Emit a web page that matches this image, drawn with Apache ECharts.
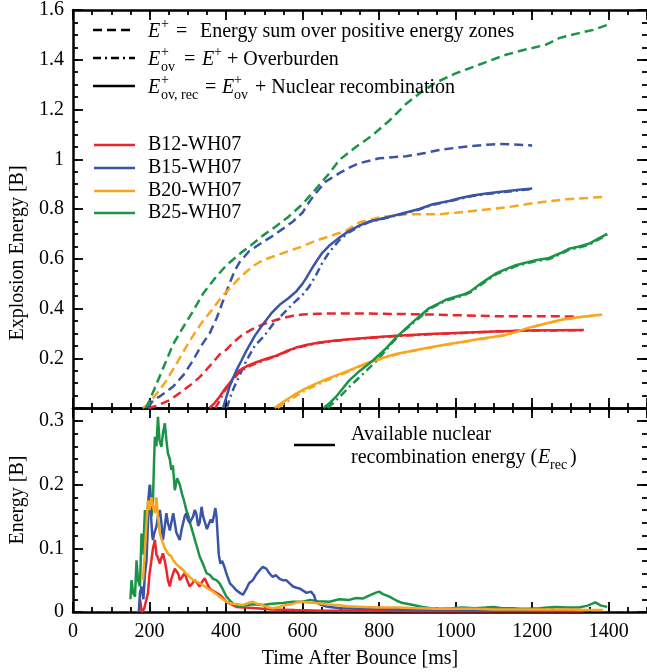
<!DOCTYPE html>
<html><head><meta charset="utf-8">
<script src="https://cdn.jsdelivr.net/npm/echarts@6/dist/echarts.min.js"></script>
<style>html,body{margin:0;padding:0;background:#fff}#c{width:647px;height:672px}</style>
</head><body><div id="c"></div><script>
// ---------- data ----------
const xTicks = [0,200,400,600,800,1000,1200,1400];
const topYTicks = [0.2,0.4,0.6,0.8,1,1.2,1.4,1.6];
const botYTicks = [0,0.1,0.2,0.3];
const models = ['B12-WH07','B15-WH07','B20-WH07','B25-WH07'];

// E+ (dashed)
const b12_Eplus = [[195,0],[218,0.008],[250,0.03],[279,0.06],[305,0.09],[331,0.124],[357,0.168],[383,0.215],[401,0.235],[420,0.265],[444,0.296],[470,0.318],[496,0.336],[522,0.35],[548,0.362],[575,0.371],[600,0.376],[640,0.379],[670,0.38],[750,0.38],[850,0.378],[931,0.376],[1000,0.373],[1105,0.369],[1200,0.369],[1322,0.368]];
const b15_Eplus = [[195,0],[209,0.03],[230,0.05],[261,0.085],[290,0.135],[313,0.19],[335,0.25],[357,0.30],[375,0.36],[392,0.43],[409,0.50],[422,0.55],[435,0.585],[460,0.63],[496,0.667],[520,0.69],[548,0.72],[575,0.75],[600,0.786],[618,0.83],[635,0.865],[660,0.91],[696,0.944],[720,0.965],[748,0.984],[800,1.004],[870,1.012],[920,1.025],[957,1.037],[1000,1.046],[1044,1.053],[1080,1.058],[1113,1.061],[1150,1.06],[1200,1.055]];
const b20_Eplus = [[182,0],[192,0.01],[215,0.05],[244,0.11],[275,0.19],[305,0.27],[335,0.34],[366,0.40],[390,0.45],[409,0.48],[430,0.515],[453,0.548],[475,0.575],[496,0.594],[525,0.61],[557,0.627],[600,0.65],[635,0.673],[670,0.69],[714,0.713],[748,0.746],[800,0.766],[870,0.779],[957,0.779],[1000,0.785],[1044,0.792],[1131,0.806],[1200,0.823],[1287,0.839],[1383,0.848]];
const b25_Eplus = [[190,0],[200,0.03],[230,0.14],[262,0.257],[290,0.33],[314,0.39],[340,0.46],[370,0.52],[401,0.574],[440,0.625],[470,0.66],[496,0.693],[530,0.73],[560,0.765],[600,0.82],[640,0.89],[670,0.944],[696,0.997],[740,1.05],[783,1.097],[830,1.16],[870,1.222],[910,1.27],[948,1.308],[1000,1.345],[1061,1.38],[1131,1.42],[1180,1.44],[1235,1.46],[1270,1.487],[1322,1.507],[1360,1.52],[1396,1.54]];

// E+_ov (dash-dot)
const b12_Eov = [[372,0],[383,0.03],[396,0.068],[409,0.095],[422,0.12],[435,0.145],[457,0.165],[479,0.18],[505,0.195],[531,0.208],[557,0.226],[583,0.241],[612,0.252],[644,0.262],[680,0.269],[714,0.274],[780,0.282],[844,0.289],[930,0.296],[1018,0.302],[1100,0.307],[1192,0.311],[1260,0.312],[1335,0.313]];
const b15_Eov = [[402,0],[410,0.04],[420,0.08],[435,0.13],[453,0.19],[475,0.25],[500,0.29],[522,0.336],[550,0.38],[575,0.42],[600,0.455],[618,0.49],[635,0.534],[652,0.585],[670,0.627],[696,0.675],[720,0.705],[748,0.73],[775,0.748],[800,0.757],[835,0.77],[870,0.784],[905,0.798],[940,0.817],[983,0.83],[1010,0.841],[1044,0.852],[1080,0.86],[1113,0.866],[1160,0.874],[1200,0.88]];
const b20_Eov = [[535,0],[548,0.015],[570,0.035],[590,0.055],[615,0.077],[640,0.095],[665,0.112],[690,0.128],[722,0.148],[748,0.166],[774,0.182],[810,0.2],[844,0.215],[880,0.227],[931,0.242],[983,0.256],[1020,0.265],[1061,0.276],[1100,0.285],[1131,0.293],[1160,0.306],[1192,0.322],[1230,0.337],[1279,0.355],[1330,0.366],[1383,0.375]];
const b25_Eov = [[665,0],[680,0.02],[700,0.05],[722,0.085],[760,0.14],[800,0.2],[830,0.255],[860,0.305],[896,0.35],[931,0.398],[955,0.416],[974,0.431],[1018,0.451],[1040,0.466],[1061,0.491],[1085,0.516],[1105,0.537],[1130,0.553],[1157,0.57],[1185,0.581],[1209,0.59],[1244,0.599],[1270,0.616],[1296,0.636],[1320,0.644],[1348,0.656],[1375,0.679],[1396,0.697]];

// E+_ov,rec (solid)
const b12_Erec = [[357,0],[370,0.02],[383,0.045],[396,0.075],[409,0.099],[422,0.128],[435,0.151],[457,0.17],[479,0.184],[505,0.198],[531,0.21],[557,0.228],[583,0.243],[612,0.254],[644,0.263],[680,0.27],[714,0.275],[780,0.283],[844,0.29],[930,0.297],[1018,0.303],[1100,0.308],[1192,0.312],[1260,0.313],[1335,0.314]];
const b15_Erec = [[392,0],[400,0.04],[409,0.085],[418,0.12],[427,0.151],[440,0.19],[453,0.23],[475,0.29],[496,0.336],[518,0.38],[540,0.415],[562,0.44],[583,0.468],[600,0.5],[609,0.521],[622,0.555],[635,0.587],[652,0.625],[670,0.653],[696,0.685],[720,0.71],[748,0.733],[775,0.75],[800,0.759],[835,0.772],[870,0.786],[905,0.80],[940,0.819],[983,0.832],[1010,0.843],[1044,0.854],[1080,0.862],[1113,0.868],[1160,0.876],[1200,0.882]];
const b20_Erec = [[527,0],[540,0.015],[560,0.035],[583,0.058],[610,0.08],[635,0.098],[660,0.115],[688,0.131],[722,0.151],[748,0.168],[774,0.184],[810,0.202],[844,0.217],[880,0.228],[931,0.243],[983,0.257],[1020,0.266],[1061,0.277],[1100,0.286],[1131,0.294],[1160,0.307],[1192,0.323],[1230,0.338],[1279,0.356],[1330,0.367],[1383,0.376]];
const b25_Erec = [[655,0],[670,0.019],[690,0.05],[722,0.111],[750,0.15],[783,0.19],[815,0.235],[844,0.283],[870,0.32],[896,0.356],[931,0.402],[955,0.42],[974,0.435],[1018,0.455],[1040,0.47],[1061,0.495],[1085,0.52],[1105,0.541],[1130,0.557],[1157,0.574],[1185,0.585],[1209,0.594],[1244,0.603],[1270,0.62],[1296,0.64],[1320,0.648],[1348,0.66],[1375,0.683],[1396,0.70]];

// Available nuclear recombination energy (bottom panel)
const b12_avail = [[175,0.02],[180,0.0],[186,0.005],[192,0.02],[196,0.03],[200,0.06],[205,0.081],[209,0.1],[214,0.113],[218,0.09],[222,0.085],[227,0.076],[231,0.085],[235,0.092],[240,0.08],[244,0.066],[248,0.05],[253,0.04],[257,0.052],[262,0.061],[266,0.068],[270,0.071],[275,0.06],[279,0.05],[285,0.055],[292,0.061],[298,0.05],[305,0.04],[312,0.045],[318,0.05],[325,0.045],[331,0.04],[338,0.048],[344,0.053],[350,0.045],[357,0.037],[366,0.033],[375,0.03],[383,0.027],[392,0.022],[401,0.016],[414,0.012],[427,0.008],[450,0.007],[479,0.006],[520,0.004],[580,0.003],[650,0.002],[750,0.002],[900,0.001],[1100,0.001],[1335,0.001]];
const b15_avail = [[172,0.0],[175,0.03],[179,0.04],[184,0.02],[188,0.06],[192,0.08],[196,0.14],[199,0.19],[201,0.199],[204,0.15],[207,0.12],[209,0.113],[213,0.125],[218,0.134],[222,0.15],[227,0.16],[231,0.14],[235,0.113],[240,0.135],[244,0.155],[248,0.14],[253,0.128],[257,0.14],[262,0.155],[266,0.14],[270,0.125],[275,0.118],[279,0.113],[284,0.13],[288,0.14],[292,0.15],[296,0.155],[300,0.145],[305,0.14],[309,0.139],[314,0.15],[318,0.16],[322,0.155],[327,0.135],[331,0.14],[336,0.165],[340,0.15],[345,0.14],[350,0.13],[355,0.138],[360,0.145],[364,0.14],[368,0.15],[372,0.163],[375,0.15],[378,0.12],[381,0.09],[385,0.076],[390,0.08],[396,0.07],[401,0.06],[406,0.052],[410,0.045],[418,0.04],[427,0.034],[436,0.03],[444,0.027],[452,0.035],[460,0.045],[470,0.05],[478,0.058],[487,0.065],[496,0.071],[505,0.068],[514,0.06],[522,0.055],[530,0.058],[540,0.052],[548,0.05],[557,0.05],[566,0.045],[575,0.04],[584,0.038],[592,0.037],[600,0.034],[610,0.03],[622,0.032],[630,0.026],[635,0.016],[645,0.012],[660,0.009],[670,0.008],[700,0.006],[750,0.005],[800,0.005],[850,0.004],[900,0.004],[950,0.004],[1000,0.004],[1050,0.003],[1100,0.003],[1150,0.003],[1200,0.003]];
const b20_avail = [[183,0.05],[186,0.08],[188,0.097],[192,0.14],[196,0.175],[200,0.16],[205,0.18],[209,0.165],[214,0.155],[218,0.18],[222,0.15],[227,0.123],[231,0.115],[235,0.108],[240,0.1],[244,0.097],[250,0.09],[256,0.088],[262,0.081],[270,0.075],[279,0.07],[288,0.066],[296,0.06],[305,0.055],[314,0.05],[322,0.048],[331,0.045],[340,0.042],[349,0.038],[357,0.035],[366,0.032],[375,0.028],[383,0.024],[392,0.02],[401,0.016],[415,0.013],[430,0.012],[444,0.011],[458,0.014],[470,0.016],[480,0.013],[490,0.012],[505,0.008],[522,0.006],[540,0.008],[556,0.011],[570,0.012],[585,0.015],[600,0.016],[615,0.015],[635,0.014],[660,0.012],[688,0.011],[720,0.009],[760,0.008],[800,0.007],[850,0.007],[900,0.006],[950,0.005],[1000,0.005],[1050,0.005],[1100,0.004],[1150,0.004],[1200,0.004],[1250,0.004],[1300,0.004],[1350,0.003],[1385,0.003]];
const b25_avail = [[150,0.02],[153,0.05],[157,0.03],[162,0.024],[166,0.081],[170,0.05],[175,0.04],[179,0.123],[183,0.09],[188,0.16],[192,0.134],[196,0.17],[201,0.20],[205,0.15],[209,0.176],[212,0.24],[214,0.275],[218,0.26],[222,0.306],[226,0.27],[231,0.259],[235,0.28],[240,0.296],[244,0.27],[248,0.249],[253,0.24],[257,0.223],[261,0.23],[266,0.191],[272,0.21],[279,0.20],[285,0.185],[290,0.175],[296,0.16],[302,0.15],[308,0.135],[314,0.123],[320,0.11],[325,0.1],[331,0.087],[340,0.075],[349,0.061],[358,0.058],[366,0.052],[375,0.05],[383,0.045],[392,0.035],[401,0.024],[410,0.018],[420,0.012],[435,0.008],[450,0.01],[470,0.012],[496,0.011],[520,0.013],[548,0.014],[575,0.016],[600,0.016],[620,0.019],[640,0.017],[670,0.016],[696,0.02],[722,0.019],[740,0.022],[757,0.021],[775,0.026],[790,0.03],[800,0.032],[810,0.028],[827,0.024],[845,0.018],[861,0.014],[880,0.012],[913,0.008],[935,0.006],[957,0.005],[990,0.006],[1018,0.007],[1050,0.006],[1079,0.007],[1100,0.008],[1120,0.006],[1148,0.006],[1170,0.005],[1192,0.005],[1220,0.006],[1240,0.007],[1261,0.008],[1290,0.007],[1322,0.007],[1345,0.01],[1365,0.015],[1380,0.01],[1396,0.008]];

// ---------- styling ----------
const COLORS = ['#e8262b','#3a55a5','#f8a51f','#1b9447'];
const FONT = '"Liberation Serif","Times New Roman",serif';
const DASH = [9,5];
const DASHDOT = [8,4,2,4];
const LW = 2.5;

const chart = echarts.init(document.getElementById('c'), null, {renderer:'canvas'});

function xAx(grid, pos, interval, len, withLine, labels) {
  return {
    type:'value', gridIndex:grid, position:pos, min:0, max:1500, interval:interval,
    axisLine:{show:withLine, onZero:false, lineStyle:{color:'#000', width:2.5}},
    axisTick:{show:true, inside:true, length:len, lineStyle:{color:'#000', width:1.8}},
    axisLabel:{show:!!labels, showMaxLabel:false, fontFamily:FONT, fontSize:20, color:'#000', margin:10,
      formatter:(v)=> xTicks.indexOf(v) >= 0 ? String(v) : ''},
    splitLine:{show:false},
    name: labels ? 'Time After Bounce [ms]' : '',
    nameLocation:'middle', nameGap:37,
    nameTextStyle:{fontFamily:FONT, fontSize:20, color:'#000'}
  };
}
function yAx(grid, pos, max, interval, len, withLine, ticksList) {
  return {
    type:'value', gridIndex:grid, position:pos, min:0, max:max, interval:interval,
    axisLine:{show:withLine, onZero:false, lineStyle:{color:'#000', width:2.5}},
    axisTick:{show:true, inside:true, length:len, lineStyle:{color:'#000', width:1.8}},
    axisLabel:{show:!!ticksList, showMaxLabel: ticksList ? (ticksList.indexOf(max)>=0) : false,
      fontFamily:FONT, fontSize:20, color:'#000', margin:9,
      formatter:(v)=>{ if(!ticksList) return ''; const r = Math.round(v*1000)/1000; return ticksList.indexOf(r)>=0 ? String(r) : ''; }},
    splitLine:{show:false}
  };
}

const xAxis = [
  xAx(0,'bottom',200,10,true,false), xAx(0,'bottom',50,5,false,false),
  xAx(0,'top',200,10,true,false),    xAx(0,'top',50,5,false,false),
  xAx(1,'bottom',200,10,true,true),  xAx(1,'bottom',50,5,false,false),
  xAx(1,'top',200,10,true,false),    xAx(1,'top',50,5,false,false)
];
const yAxis = [
  yAx(0,'left',1.6,0.2,10,true,topYTicks), yAx(0,'left',1.6,0.05,5,false,null),
  yAx(0,'right',1.6,0.2,10,false,null),    yAx(0,'right',1.6,0.05,5,false,null),
  yAx(1,'left',0.32,0.1,10,true,botYTicks),yAx(1,'left',0.32,0.02,5,false,null),
  yAx(1,'right',0.32,0.1,10,false,null),   yAx(1,'right',0.32,0.02,5,false,null)
];

function line(data, color, type, xi, yi, z) {
  return {type:'line', data:data, xAxisIndex:xi, yAxisIndex:yi, showSymbol:false, symbol:'none',
    lineStyle:{color:color, width:LW, type:type}, z:z||2, silent:true, clip:true, animation:false};
}

const series = [
  line(b12_Eplus, COLORS[0], DASH, 0, 0), line(b15_Eplus, COLORS[1], DASH, 0, 0),
  line(b20_Eplus, COLORS[2], DASH, 0, 0), line(b25_Eplus, COLORS[3], DASH, 0, 0),
  line(b12_Eov, COLORS[0], DASHDOT, 0, 0), line(b15_Eov, COLORS[1], DASHDOT, 0, 0),
  line(b20_Eov, COLORS[2], DASHDOT, 0, 0), line(b25_Eov, COLORS[3], DASHDOT, 0, 0),
  line(b12_Erec, COLORS[0], 'solid', 0, 0), line(b15_Erec, COLORS[1], 'solid', 0, 0),
  line(b20_Erec, COLORS[2], 'solid', 0, 0), line(b25_Erec, COLORS[3], 'solid', 0, 0),
  line(b12_avail, COLORS[0], 'solid', 4, 4), line(b25_avail, COLORS[3], 'solid', 4, 4),
  line(b15_avail, COLORS[1], 'solid', 4, 4), line(b20_avail, COLORS[2], 'solid', 4, 4)
];

// ---------- legend graphics ----------
function T(x, y, s, size, italic, align) {
  return {type:'text', x:x, y:y, silent:true, z:100,
    style:{text:s, font:(italic?'italic ':'')+size+'px '+FONT, fill:'#000', align:align||'left', verticalAlign:'middle'}};
}
function L(x1, y, x2, color, dash) {
  return {type:'line', silent:true, z:100, shape:{x1:x1, y1:y, x2:x2, y2:y},
    style:{stroke:color, lineWidth:LW, lineDash:dash||null}};
}
const g = [];
// row 1
g.push(L(93,30,135,'#000',DASH));
g.push(T(148,32,'E',20,true)); g.push(T(161,24,'+',14,false));
g.push(T(176,32,'=',20,false)); g.push(T(200,32,'Energy sum over positive energy zones',20,false));
// row 2
g.push(L(93,58,135,'#000',DASHDOT));
g.push(T(148,60,'E',20,true)); g.push(T(161,52,'+',14,false)); g.push(T(161,67,'ov',14,false));
g.push(T(184,60,'=',20,false)); g.push(T(202,60,'E',20,true)); g.push(T(214,52,'+',14,false));
g.push(T(227,60,'+ Overburden',20,false));
// row 3
g.push(L(93,86,135,'#000',null));
g.push(T(148,88,'E',20,true)); g.push(T(161,80,'+',14,false)); g.push(T(161,95,'ov, rec',14,false));
g.push(T(205,88,'=',20,false)); g.push(T(222,88,'E',20,true)); g.push(T(234,80,'+',14,false)); g.push(T(234,95,'ov',14,false));
g.push(T(255,88,'+ Nuclear recombination',20,false));
// model legend
const ly = [145,168,191,213];
models.forEach((m,i)=>{ g.push(L(94,ly[i],135,COLORS[i],null)); g.push(T(148,ly[i],m,20,false)); });
// bottom legend
g.push(L(294,445,335,'#000',null));
g.push(T(351,435,'Available nuclear',20,false));
g.push(T(351,458,'recombination energy (',20,false));
g.push(T(538,458,'E',20,true)); g.push(T(550,465,'rec',14,false)); g.push(T(570,458,')',20,false));
// y axis titles
g.push({type:'text', x:18, y:253, rotation:Math.PI/2, silent:true,
  style:{text:'Explosion Energy [B]', font:'20px '+FONT, fill:'#000', align:'center', verticalAlign:'middle'}});
g.push({type:'text', x:18, y:500, rotation:Math.PI/2, silent:true,
  style:{text:'Energy [B]', font:'20px '+FONT, fill:'#000', align:'center', verticalAlign:'middle'}});

chart.setOption({
  animation:false,
  backgroundColor:'#fff',
  grid:[{left:73, top:5, width:575, height:403}, {left:73, top:408, width:575, height:204}],
  xAxis:xAxis, yAxis:yAxis, series:series, graphic:g
});
</script></body></html>
